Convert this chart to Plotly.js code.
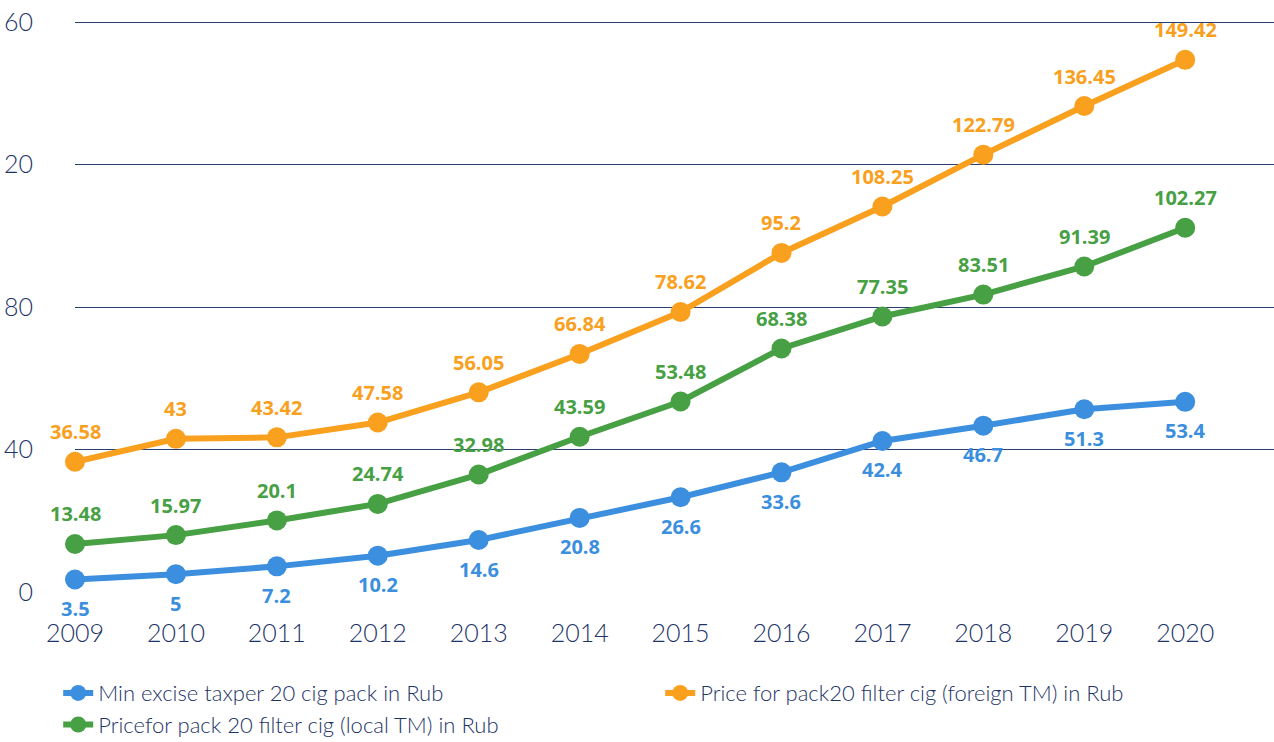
<!DOCTYPE html>
<html>
<head>
<meta charset="utf-8">
<script src="https://cdn.plot.ly/plotly-3.0.1.min.js"></script>
<style>html,body{margin:0;padding:0;background:#fff;}#chart{width:1274px;height:742px;}</style>
</head>
<body>
<div id="chart"></div>
<script>
var years = ["2009","2010","2011","2012","2013","2014","2015","2016","2017","2018","2019","2020"];
var minExcise = [3.5, 5, 7.2, 10.2, 14.6, 20.8, 26.6, 33.6, 42.4, 46.7, 51.3, 53.4];
var priceLocal = [13.48, 15.97, 20.1, 24.74, 32.98, 43.59, 53.48, 68.38, 77.35, 83.51, 91.39, 102.27];
var priceForeign = [36.58, 43, 43.42, 47.58, 56.05, 66.84, 78.62, 95.2, 108.25, 122.79, 136.45, 149.42];
var yTickVals = [0, 40, 80, 120, 160];
var yTickText = ["0", "40", "80", "20", "60"];
var names = ["Min excise taxper 20 cig pack in Rub", "Price for pack20 filter cig (foreign TM) in Rub", "Pricefor pack 20 filter cig (local TM) in Rub"];

var BLUE = "#3b8fde", ORANGE = "#f9a01e", GREEN = "#47a043", NAVY = "#1d3467";
var FONT = "Lato, 'Open Sans', sans-serif";

function mk(y, name, color) {
  return {
    x: years, y: y, name: name, type: "scatter", mode: "lines+markers",
    cliponaxis: false,
    line: {color: color, width: 6},
    marker: {color: color, size: 20},
    hoverinfo: "x+y"
  };
}
var data = [
  mk(minExcise, names[0], BLUE),
  mk(priceForeign, names[1], ORANGE),
  mk(priceLocal, names[2], GREEN)
];

var annotations = [];
function addLabels(vals, color, shift) {
  vals.forEach(function (v, i) {
    annotations.push({
      x: i, y: v, xref: "x", yref: "y", text: String(v), showarrow: false, borderpad: 0,
      yshift: shift, font: {family: "'Open Sans', sans-serif", size: 20, color: color, weight: "bold"}
    });
  });
}
addLabels(minExcise, BLUE, -29);
addLabels(priceForeign, ORANGE, 30);
addLabels(priceLocal, GREEN, 30);

var layout = {
  width: 1274, height: 742,
  margin: {l: 75, r: 0, t: 20, b: 150, autoexpand: false},
  paper_bgcolor: "#fff", plot_bgcolor: "#fff",
  font: {family: FONT, color: NAVY},
  showlegend: true,
  xaxis: {
    type: "category", range: [0, 11.88], showgrid: false, zeroline: false, showline: false,
    ticks: "outside", ticklen: 19, tickcolor: "rgba(0,0,0,0)",
    tickfont: {family: FONT, size: 25, color: NAVY, weight: 300}
  },
  yaxis: {
    range: [0, 160.6], tickvals: yTickVals, ticktext: yTickText,
    showgrid: true, gridcolor: "#2a4075", gridwidth: 1,
    zeroline: true, zerolinecolor: "#ffffff", zerolinewidth: 4, showline: false,
    ticks: "outside", ticklen: 36, tickcolor: "rgba(0,0,0,0)",
    tickfont: {family: FONT, size: 25, color: NAVY, weight: 300}
  },
  legend: {
    orientation: "h", x: -0.014, xanchor: "left", y: -0.14, yanchor: "top",
    entrywidth: 557, entrywidthmode: "pixels", traceorder: "normal",
    font: {family: FONT, size: 22, color: NAVY, weight: 300},
    bgcolor: "rgba(0,0,0,0)"
  },
  annotations: annotations
};

Plotly.newPlot("chart", data, layout, {displayModeBar: false, staticPlot: true});
</script>
</body>
</html>
